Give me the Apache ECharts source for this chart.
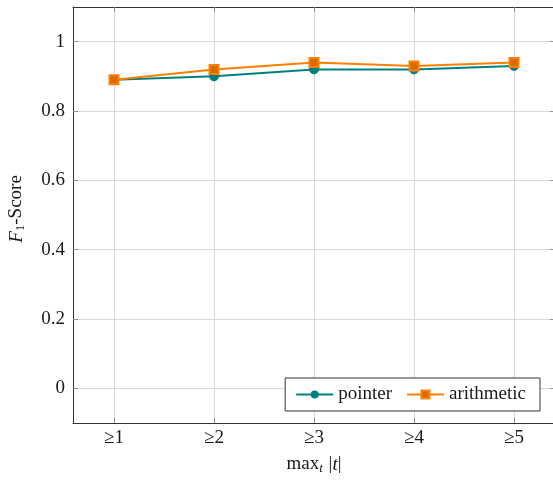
<!DOCTYPE html>
<html>
<head>
<meta charset="utf-8">
<script src="https://cdn.jsdelivr.net/npm/echarts@6/dist/echarts.min.js"></script>
<style>
  html, body { margin: 0; padding: 0; background: #fff; }
  #chart { width: 553px; height: 481px; }
</style>
</head>
<body>
<div id="chart"></div>
<script>
// Thresholds on max_t |t| (x positions 1..5) and their labels
const thresholds = [1, 2, 3, 4, 5];
const thresholdLabels = ['≥1', '≥2', '≥3', '≥4', '≥5'];
// F1 scores per threshold
const pointerScores = [0.89, 0.90, 0.92, 0.92, 0.93];
const arithmeticScores = [0.89, 0.92, 0.94, 0.93, 0.94];
// Y ticks
const yTicks = [0, 0.2, 0.4, 0.6, 0.8, 1];

const FONT = '"Liberation Serif", "DejaVu Serif", serif';
const FS = 19;
const TEAL = '#008080';
const ORANGE = '#ff8000';
const GRID_COLOR = '#d9d9d9';
const TICK_COLOR = '#8f8f8f';
const SPINE = '#333333';
const TEXT = '#1a1a1a';

const pairs = (xs, ys) => xs.map((x, i) => [x, ys[i]]);

const baseX = {
  type: 'value', min: 0.59, max: 5.41,
  axisLine: { show: true, onZero: false, lineStyle: { color: SPINE, width: 1 } },
  axisTick: { show: true, inside: true, length: 5, customValues: thresholds, lineStyle: { color: TICK_COLOR } },
  splitLine: { show: false }
};
const baseY = {
  type: 'value', min: -0.1, max: 1.1,
  axisLine: { show: true, onZero: false, lineStyle: { color: SPINE, width: 1 } },
  axisTick: { show: true, inside: true, length: 5, customValues: yTicks, lineStyle: { color: TICK_COLOR } },
  splitLine: { show: false }
};

const chart = echarts.init(document.getElementById('chart'), null, { renderer: 'canvas' });
chart.setOption({
  animation: false,
  backgroundColor: '#fff',
  textStyle: { fontFamily: FONT },
  grid: { left: 73, right: -2, top: 7, bottom: 58, containLabel: false, outerBoundsMode: 'none' },
  xAxis: [
    Object.assign({}, baseX, {
      position: 'bottom',
      axisLabel: {
        customValues: thresholds, margin: 6, fontFamily: FONT, fontSize: FS, color: TEXT,
        formatter: v => thresholdLabels[thresholds.indexOf(Math.round(v))]
      },
      splitLine: { show: true, customValues: thresholds, lineStyle: { color: GRID_COLOR, width: 1 } },
      name: '{n|max}{s|t}{n| |}{i|t}{n||}',
      nameLocation: 'middle', nameGap: 31,
      nameTextStyle: {
        fontFamily: FONT, fontSize: FS, color: TEXT,
        rich: {
          n: { fontFamily: FONT, fontSize: FS, color: TEXT },
          i: { fontFamily: FONT, fontSize: FS, fontStyle: 'italic', color: TEXT },
          s: { fontFamily: FONT, fontSize: 13, fontStyle: 'italic', color: TEXT, padding: [8, 1, 0, 0] }
        }
      }
    }),
    Object.assign({}, baseX, { position: 'top', axisLabel: { show: false } })
  ],
  yAxis: [
    Object.assign({}, baseY, {
      position: 'left',
      axisLabel: { customValues: yTicks, margin: 8, fontFamily: FONT, fontSize: FS, color: TEXT,
        formatter: v => String(Math.round(v * 10) / 10) },
      splitLine: { show: true, customValues: yTicks, lineStyle: { color: GRID_COLOR, width: 1 } },
      name: '{i|F}{s|1}{n|-Score}',
      nameLocation: 'middle', nameGap: 46, nameRotate: 90,
      nameTextStyle: {
        fontFamily: FONT, fontSize: FS, color: TEXT, padding: [0, 0, 0, 12],
        rich: {
          n: { fontFamily: FONT, fontSize: FS, color: TEXT },
          i: { fontFamily: FONT, fontSize: FS, fontStyle: 'italic', color: TEXT },
          s: { fontFamily: FONT, fontSize: 13, color: TEXT, padding: [8, 0, 0, 0] }
        }
      }
    }),
    Object.assign({}, baseY, { position: 'right', axisLabel: { show: false } })
  ],
  legend: {
    right: 13, bottom: 70,
    orient: 'horizontal',
    backgroundColor: '#fff',
    borderColor: '#333', borderWidth: 1, borderRadius: 0,
    padding: [7, 14, 7, 10],
    itemGap: 14, itemWidth: 37, itemHeight: 10,
    textStyle: { fontFamily: FONT, fontSize: FS, color: TEXT },
    data: ['pointer', 'arithmetic']
  },
  series: [
    {
      name: 'pointer', type: 'line', xAxisIndex: 0, yAxisIndex: 0,
      data: pairs(thresholds, pointerScores),
      symbol: 'circle', symbolSize: 9,
      lineStyle: { color: TEAL, width: 2 },
      itemStyle: { color: TEAL, borderColor: TEAL },
      z: 3
    },
    {
      name: 'arithmetic', type: 'line', xAxisIndex: 0, yAxisIndex: 0,
      data: pairs(thresholds, arithmeticScores),
      symbol: 'rect', symbolSize: 9,
      lineStyle: { color: ORANGE, width: 2 },
      itemStyle: { color: '#d96a00', borderColor: ORANGE, borderWidth: 2 },
      z: 4
    }
  ]
});
</script>
</body>
</html>
